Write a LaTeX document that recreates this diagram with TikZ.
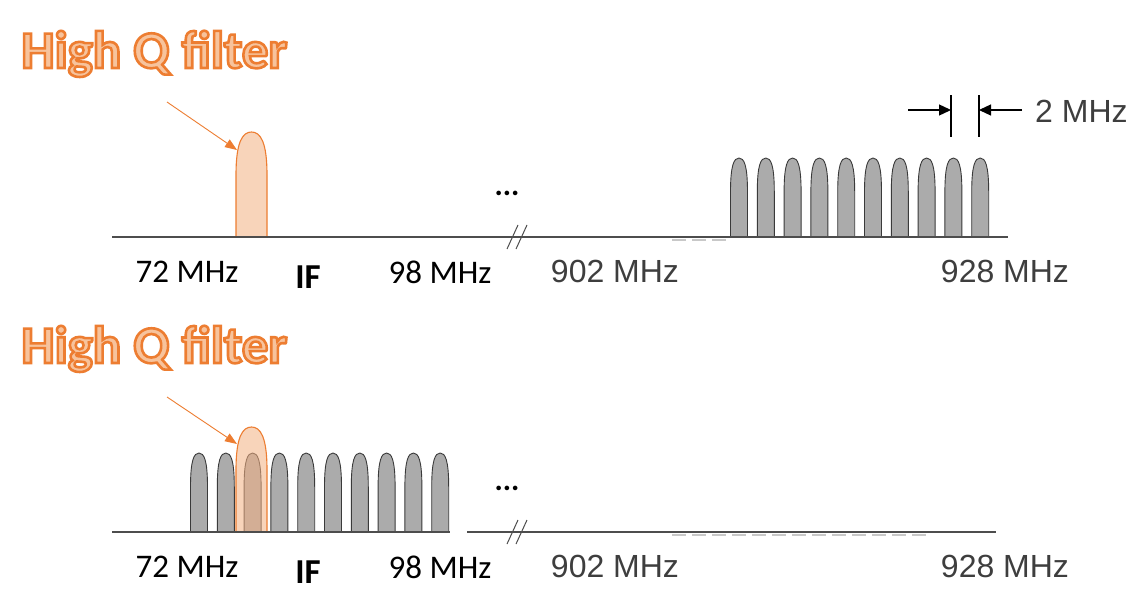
\documentclass[tikz,border=0pt]{standalone}
\usepackage{fontspec}
\usetikzlibrary{arrows.meta}
\setmainfont{Carlito}
\newfontfamily\arialf{Liberation Sans}
\newfontfamily\calf{Carlito}
\definecolor{hqorange}{HTML}{ED7D31}
\definecolor{hqfill}{HTML}{F7C39C}
\definecolor{filtfill}{HTML}{F4B183}
\definecolor{chanfill}{HTML}{ABABAB}
\definecolor{chanline}{HTML}{3A3A3A}
\definecolor{axisc}{HTML}{4D4D4D}
\definecolor{graytext}{HTML}{3E3E3E}
\definecolor{ghost}{HTML}{C8C8C8}
\newcommand{\outlinetext}[1]{\textcolor{hqfill}{\special{pdf:literal direct 2 Tr 2.6 w 0.929 0.490 0.192 RG}#1\special{pdf:literal direct 0 Tr}}}
\begin{document}
\begin{tikzpicture}[x=1pt,y=-1pt,
  chanstyle/.style={fill=chanfill,draw=chanline,line width=0.9pt},
  filtstyle/.style={fill=filtfill,fill opacity=0.55,draw=hqorange,line width=1.1pt},
  axisline/.style={draw=axisc,line width=1.6pt},
  ghostline/.style={draw=ghost,line width=1.4pt,dash pattern=on 14pt off 6pt},
  breakline/.style={draw=axisc,line width=1pt},
  pointer/.style={draw=hqorange,line width=0.9pt,-{Triangle[length=12pt,width=9pt]}},
  dimarrow/.style={draw=black,line width=1.3pt,-{Triangle[length=12pt,width=11pt]}},
  dimtick/.style={draw=black,line width=1.2pt},
  calab/.style={font=\calf\fontsize{33}{36}\selectfont,text=black,anchor=base,inner sep=0pt},
  iflab/.style={font=\calf\bfseries\fontsize{35}{38}\selectfont,text=black,anchor=base,inner sep=0pt},
  arlab/.style={font=\arialf\fontsize{32}{35}\selectfont,text=graytext,anchor=base,inner sep=0pt},
  dots/.style={font=\calf\bfseries\fontsize{31}{34}\selectfont,text=black,inner sep=0pt},
  titlelab/.style={font=\calf\bfseries\fontsize{53}{56}\selectfont,anchor=base west,inner sep=0pt},
  pics/chan/.style={code={
    \path[chanstyle] (-8.5,0) -- (-8.5,-45) .. controls (-8.5,-72) and (-5,-79) .. (0,-79)
      .. controls (5,-79) and (8.5,-72) .. (8.5,-45) -- (8.5,0) -- cycle;
  }},
  pics/filt/.style={code={
    \path[filtstyle] (-15.5,0) -- (-15.5,-62) .. controls (-15.5,-95) and (-9,-105) .. (0,-105)
      .. controls (9,-105) and (15.5,-95) .. (15.5,-62) -- (15.5,0) -- cycle;
  }}
]
\useasboundingbox (0,0) rectangle (1130,610);
\fill[white] (0,0) rectangle (1130,610);

% ---------------- top panel ----------------
\node[titlelab] (title1) at (21,68) {\outlinetext{High Q filter}};

\path[ghostline] (672,240) -- (730,240);
\foreach \i in {0,...,9} \pic at ({739+26.8*\i},237) {chan};
\pic at (251.5,237) {filt};
\path[axisline] (112,237) -- (1008,237);
\path[breakline] (507,249) -- (518,225);
\path[breakline] (516,249) -- (527,225);

\coordinate (p1s) at (167,102);
\coordinate (p1e) at (237,150);
\draw[pointer] (p1s) -- (p1e);

\node[dots] (dots1) at (507,193) {...};

\coordinate (tickL) at (951,95);
\coordinate (tickLb) at (951,137);
\coordinate (tickR) at (979,95);
\coordinate (tickRb) at (979,137);
\coordinate (arrLs) at (908,110);
\coordinate (arrLe) at (951,110);
\coordinate (arrRs) at (1022,110);
\coordinate (arrRe) at (979,110);
\draw[dimtick] (tickL) -- (tickLb);
\draw[dimtick] (tickR) -- (tickRb);
\draw[dimarrow] (arrLs) -- (arrLe);
\draw[dimarrow] (arrRs) -- (arrRe);
\node[arlab,anchor=base west] (bw) at (1035,122) {2 MHz};

\node[calab] (l72a) at (187,282) {72 MHz};
\node[iflab] (ifa) at (308,288) {IF};
\node[calab] (l98a) at (440,283) {98 MHz};
\node[arlab] (l902a) at (615,282) {902 MHz};
\node[arlab] (l928a) at (1005,282) {928 MHz};

% ---------------- bottom panel ----------------
\node[titlelab] (title2) at (21,363) {\outlinetext{High Q filter}};

\path[ghostline] (672,535) -- (930,535);
\foreach \i in {0,...,9} \pic at ({199+26.8*\i},532) {chan};
\pic at (251.5,532) {filt};
\path[axisline] (112,532) -- (450,532);
\path[axisline] (467,532) -- (996,532);
\path[breakline] (507,544) -- (518,520);
\path[breakline] (516,544) -- (527,520);

\coordinate (p2s) at (167,397);
\coordinate (p2e) at (237,444);
\draw[pointer] (p2s) -- (p2e);

\node[dots] (dots2) at (507,488) {...};

\node[calab] (l72b) at (187,577) {72 MHz};
\node[iflab] (ifb) at (308,583) {IF};
\node[calab] (l98b) at (440,578) {98 MHz};
\node[arlab] (l902b) at (615,577) {902 MHz};
\node[arlab] (l928b) at (1005,577) {928 MHz};
\end{tikzpicture}
\end{document}
